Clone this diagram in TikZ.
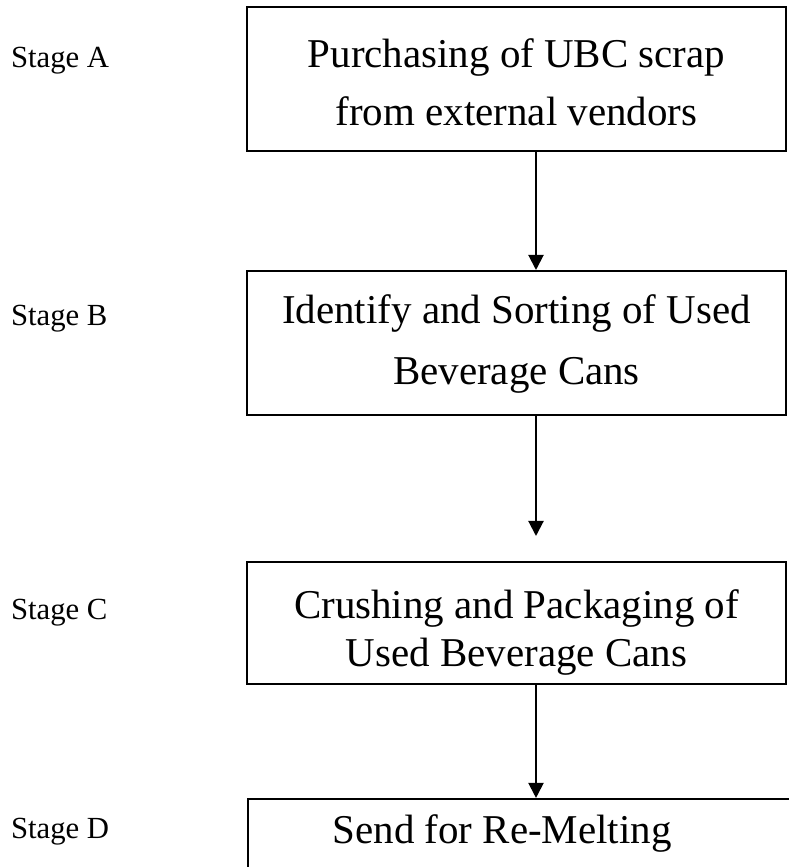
\documentclass[tikz,border=0pt]{standalone}
\usepackage{fontspec}
\setmainfont{Liberation Serif}
\usetikzlibrary{arrows.meta,positioning}
\tikzstyle{stagebox} = [rectangle, draw, line width=0.8pt, text centered, align=center, inner sep=0pt, minimum width=210.5pt]
\tikzstyle{stagelabel} = [anchor=base west, inner sep=0pt, font=\fontsize{12}{14}\selectfont]

\begin{document}
\begin{tikzpicture}[x=0.390625pt, y=-0.390625pt, >={Triangle[length=5.9pt,width=5.9pt]}, line width=0.8pt]
    \useasboundingbox (0,0) rectangle (789,867);
    \clip (0,0) rectangle (789,867);

    % the four stages
    \node[stagebox, minimum height=56.25pt, font=\fontsize{16}{22.3}\selectfont] (purchase) at (516.5,79)
        {\rule{0pt}{16pt}Purchasing of UBC scrap\\from external vendors\rule[-2.3pt]{0pt}{0pt}};
    \node[stagebox, minimum height=56.25pt, font=\fontsize{16}{24.2}\selectfont] (sorting) at (516.5,343)
        {\rule{0pt}{12.9pt}Identify and Sorting of Used\\Beverage Cans\rule[-4.3pt]{0pt}{0pt}};
    \node[stagebox, minimum height=47.7pt, font=\fontsize{16}{18.4}\selectfont] (crushing) at (516.5,623)
        {\rule{0pt}{19.5pt}Crushing and Packaging of\\Used Beverage Cans\rule[-4.3pt]{0pt}{0pt}};
    \node[stagebox, minimum width=219.5pt, minimum height=34.4pt, font=\fontsize{16}{18.4}\selectfont] (remelt) at (529,843)
        {\rule[-10.9pt]{0pt}{11.7pt}Send for Re-Melting\kern21pt};

    \node[stagelabel] (stageA) at (10,67) {Stage A};
    \node[stagelabel] (stageB) at (10,325) {Stage B};
    \node[stagelabel] (stageC) at (10,619) {Stage C};
    \node[stagelabel] (stageD) at (10,838) {Stage D};

    % arrows down the right of centre
    \coordinate (col) at (536,0);
    \coordinate (gap) at (536,536);

    \draw[->] (purchase.south -| col) -- (sorting.north -| col);
    \draw[->] (sorting.south -| col) -- (gap);
    \draw[->] (crushing.south -| col) -- (remelt.north -| col);
\end{tikzpicture}
\end{document}
